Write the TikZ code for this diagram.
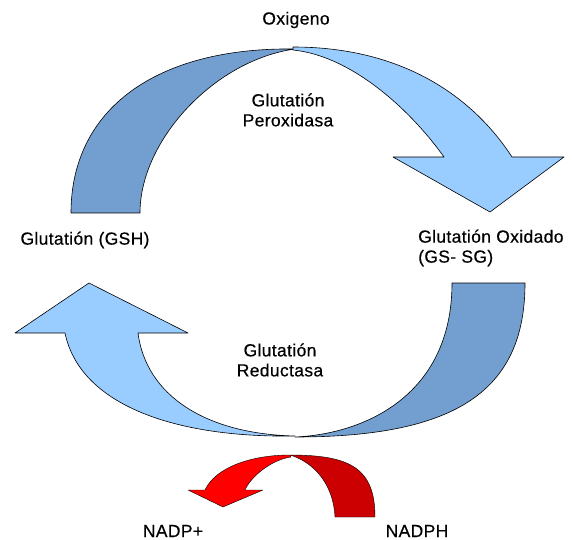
\documentclass[tikz,border=0pt]{standalone}
\usepackage{fontspec}
\setmainfont{Liberation Sans}
\newfontfamily\lblfont[FakeBold=0.4, LetterSpace=2]{Liberation Sans}
\definecolor{bandDark}{RGB}{114,159,207}
\definecolor{bandLight}{RGB}{153,204,255}
\definecolor{redLight}{RGB}{255,0,0}
\definecolor{redDark}{RGB}{204,0,0}
\begin{document}
\begin{tikzpicture}[x=1pt,y=-1pt,
  band/.style={draw=black, line width=0.6pt, line join=round},
  lbl/.style={font=\lblfont\fontsize{17.5}{20}\selectfont, inner sep=0pt, align=center}]
\useasboundingbox[fill=white] (0,0) rectangle (573,540);

% upper cycle arrow: rear (dark) limb
\path[band, fill=bandDark]
  (71,213) -- (140,213) .. controls (140,140) and (215,60) .. (295,49)
  .. controls (155,47) and (71,110) .. (71,213) -- cycle;
% upper cycle arrow: front (light) limb with head
\path[band, fill=bandLight]
  (293,47) .. controls (403,47) and (473,97) .. (512,157)
  -- (564,157) -- (490,212) -- (393,157) -- (444,157)
  .. controls (412,112) and (353,56) .. (293,50) -- cycle;

% lower cycle arrow: rear (dark) limb
\path[band, fill=bandDark]
  (452,283) -- (525,283) .. controls (525,391) and (456,437) .. (295,437)
  .. controls (365,434) and (452,395) .. (452,283) -- cycle;
% lower cycle arrow: front (light) limb with head
\path[band, fill=bandLight]
  (65,333) -- (15,333) -- (89,283) -- (188,333) -- (138,333)
  .. controls (146,395) and (205,434) .. (295,436)
  .. controls (175,438) and (80,405) .. (65,333) -- cycle;

% NADPH -> NADP+ arrow
\path[band, line width=0.4pt, fill=redDark]
  (335,517) -- (375,517) .. controls (375,468) and (350,455) .. (290,455)
  .. controls (310,461) and (333,480) .. (335,517) -- cycle;
\path[band, line width=0.4pt, fill=redLight]
  (290,455) .. controls (250,455) and (215,468) .. (205,490)
  -- (188,490) -- (223,507) -- (263,490) -- (245,490)
  .. controls (250,478) and (270,460) .. (291,457) -- cycle;

% labels
\node[lbl] (oxi) at (296,20) {Oxigeno};
\node[lbl] (gpx) at (288,110) {Glutatión\\Peroxidasa};
\node[lbl] (gsh) at (85,240) {Glutatión (GSH)};
\node[lbl, anchor=west, align=left] (gssg) at (418,248) {Glutatión Oxidado\\(GS- SG)};
\node[lbl] (gr) at (280,360) {Glutatión\\Reductasa};
\node[lbl] (nadpp) at (173,531) {NADP+};
\node[lbl] (nadph) at (417,531) {NADPH};
\end{tikzpicture}
\end{document}
